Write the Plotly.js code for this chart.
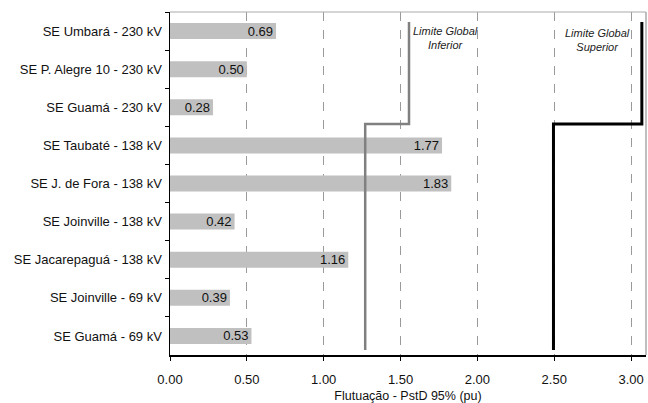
<!DOCTYPE html>
<html>
<head>
<meta charset="utf-8">
<script src="https://cdn.plot.ly/plotly-3.0.1.min.js"></script>
<style>html,body{margin:0;padding:0;background:#fff}#chart{width:648px;height:403px}</style>
</head>
<body>
<div id="chart"></div>
<script>
const categories = [
  "SE Umbará - 230 kV",
  "SE P. Alegre 10 - 230 kV",
  "SE Guamá - 230 kV",
  "SE Taubaté - 138 kV",
  "SE J. de Fora - 138 kV",
  "SE Joinville - 138 kV",
  "SE Jacarepaguá - 138 kV",
  "SE Joinville - 69 kV",
  "SE Guamá - 69 kV"
];
const values = [0.69, 0.50, 0.28, 1.77, 1.83, 0.42, 1.16, 0.39, 0.53];
const labels = values.map(v => v.toFixed(2));

// Step limit lines (x in pu, y in category-row units from the bottom, 0..9)
const limInfX = [1.27, 1.27, 1.555, 1.555];
const limSupX = [2.495, 2.495, 3.07, 3.07];
const limY = [0.13, 6.06, 6.06, 8.74];

const xTicks = [0, 0.5, 1.0, 1.5, 2.0, 2.5, 3.0];
const xTickText = xTicks.map(v => v.toFixed(2));

const font = "Liberation Sans, Arial, sans-serif";

const traces = [
  {
    type: "bar", orientation: "h",
    x: values, y: categories,
    text: labels, textposition: "inside", insidetextanchor: "end",
    constraintext: "none",
    textfont: {family: font, size: 13, color: "#111"},
    marker: {color: "#c0c0c0", line: {width: 0}},
    width: 0.42, hoverinfo: "none", cliponaxis: false
  },
  {
    type: "scatter", mode: "lines", x: limInfX, y: limY, yaxis: "y2",
    line: {color: "#808080", width: 2.5}, hoverinfo: "none"
  },
  {
    type: "scatter", mode: "lines", x: limSupX, y: limY, yaxis: "y2",
    line: {color: "#000000", width: 3}, hoverinfo: "none"
  }
];

const layout = {
  width: 648, height: 403,
  margin: {l: 170, r: 2, t: 12, b: 48, pad: 0},
  paper_bgcolor: "#fff", plot_bgcolor: "#fff",
  showlegend: false,
  font: {family: font, size: 13, color: "#111"},
  xaxis: {
    range: [0, 3.097], tickvals: xTicks, ticktext: xTickText,
    showgrid: true, gridcolor: "#9a9a9a", gridwidth: 1, griddash: "dash",
    zeroline: false, showline: true, linecolor: "#000", linewidth: 1.5,
    ticks: "outside", ticklen: 4, tickcolor: "#000",
    tickfont: {size: 13}, ticklabelstandoff: 8,
    title: {text: "Flutuação - PstD 95% (pu)", font: {size: 12.5}, standoff: 8}
  },
  yaxis: {
    type: "category", categoryorder: "array", categoryarray: categories,
    range: [8.5, -0.5], showgrid: false, zeroline: false,
    showline: true, linecolor: "#000", linewidth: 1.5,
    ticks: "outside", ticklen: 4, tickcolor: "#000", tickson: "boundaries",
    tickfont: {size: 13}, ticklabelstandoff: 4
  },
  yaxis2: {
    overlaying: "y", range: [0, 9], visible: false, showgrid: false, zeroline: false
  },
  shapes: [
    {type: "line", xref: "paper", yref: "paper", x0: 0, x1: 1, y0: 1, y1: 1,
     line: {color: "#aaaaaa", width: 1}},
    {type: "line", xref: "paper", yref: "paper", x0: 1, x1: 1, y0: 0, y1: 1,
     line: {color: "#aaaaaa", width: 1.5}}
  ],
  annotations: [
    {text: "<i>Limite Global</i><br><i>Inferior</i>", xref: "paper", yref: "paper",
     x: (445 - 170) / 476, y: 1 - (38 - 12) / 343, showarrow: false,
     xanchor: "center", yanchor: "middle",
     font: {size: 11, color: "#222"}, align: "center"},
    {text: "<i>Limite Global</i><br><i>Superior</i>", xref: "paper", yref: "paper",
     x: (597 - 170) / 476, y: 1 - (39.5 - 12) / 343, showarrow: false,
     xanchor: "center", yanchor: "middle",
     font: {size: 11, color: "#222"}, align: "center"}
  ]
};

Plotly.newPlot("chart", traces, layout, {staticPlot: true, displayModeBar: false});
</script>
</body>
</html>
